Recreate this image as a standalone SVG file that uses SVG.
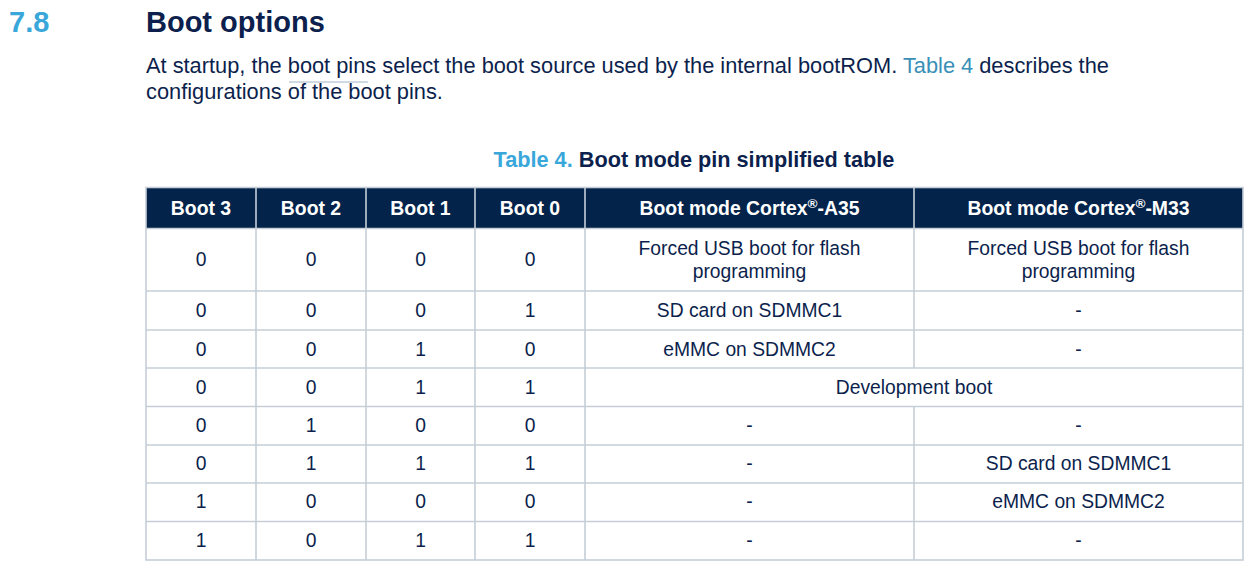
<svg xmlns="http://www.w3.org/2000/svg" width="1259" height="575" viewBox="0 0 1259 575">
<style>
text{font-family:"Liberation Sans",Arial,sans-serif;fill:#0c1f4d}
.h{font-size:29px;font-weight:bold}
.num{fill:#3aa7db}
.p{font-size:21.8px}
.link{fill:#3a8fb8}
.cap{font-size:21.7px;font-weight:bold;text-anchor:middle}
.th{font-size:19.4px;font-weight:bold;fill:#ffffff;text-anchor:middle}
.th tspan{fill:#ffffff}
.td{font-size:19.3px;text-anchor:middle}
.grid{stroke:#c5ced6;stroke-width:1.6;fill:none}
</style>
<rect width="1259" height="575" fill="#ffffff"/>
<g id="heading">
<text class="h num" x="9" y="32">7.8</text>
<text class="h" x="146" y="32">Boot options</text>
</g>
<g id="paragraph">
<text class="p" x="146" y="73">At startup, the boot pins select the boot source used by the internal bootROM. <tspan class="link">Table 4</tspan> describes the</text>
<text class="p" x="146" y="99">configurations of the boot pins.</text>
<line x1="289" y1="82" x2="368" y2="82" stroke="#9fb4c8" stroke-width="1"/>
</g>
<g id="caption">
<text class="cap" x="694" y="167"><tspan class="num">Table 4.</tspan> Boot mode pin simplified table</text>
</g>
<g id="table">
<rect x="146" y="187.5" width="1097" height="41" fill="#03234b"/>
<g id="grid" class="grid">
<rect x="146" y="187.5" width="1097" height="372.5"/>
<line x1="146" y1="228.5" x2="1243" y2="228.5"/>
<line x1="146" y1="291" x2="1243" y2="291"/>
<line x1="146" y1="330" x2="1243" y2="330"/>
<line x1="146" y1="368" x2="1243" y2="368"/>
<line x1="146" y1="406.5" x2="1243" y2="406.5"/>
<line x1="146" y1="445" x2="1243" y2="445"/>
<line x1="146" y1="483" x2="1243" y2="483"/>
<line x1="146" y1="521.5" x2="1243" y2="521.5"/>
<line x1="256" y1="187.5" x2="256" y2="560"/>
<line x1="366" y1="187.5" x2="366" y2="560"/>
<line x1="475" y1="187.5" x2="475" y2="560"/>
<line x1="585" y1="187.5" x2="585" y2="560"/>
<line x1="914" y1="187.5" x2="914" y2="368"/>
<line x1="914" y1="406.5" x2="914" y2="560"/>
</g>
<g id="header-row">
<text class="th" x="201" y="214.5">Boot 3</text>
<text class="th" x="311" y="214.5">Boot 2</text>
<text class="th" x="420.5" y="214.5">Boot 1</text>
<text class="th" x="530" y="214.5">Boot 0</text>
<text class="th" x="749.5" y="214.5">Boot mode Cortex<tspan font-size="13.5" dy="-7">®</tspan><tspan dy="7">-A35</tspan></text>
<text class="th" x="1078.5" y="214.5">Boot mode Cortex<tspan font-size="13.5" dy="-7">®</tspan><tspan dy="7">-M33</tspan></text>
</g>
<g id="row1">
<text class="td" x="201" y="266">0</text><text class="td" x="311" y="266">0</text><text class="td" x="420.5" y="266">0</text><text class="td" x="530" y="266">0</text>
<text class="td" x="749.5" y="255">Forced USB boot for flash</text><text class="td" x="749.5" y="278">programming</text>
<text class="td" x="1078.5" y="255">Forced USB boot for flash</text><text class="td" x="1078.5" y="278">programming</text>
</g>
<g id="row2">
<text class="td" x="201" y="317">0</text><text class="td" x="311" y="317">0</text><text class="td" x="420.5" y="317">0</text><text class="td" x="530" y="317">1</text>
<text class="td" x="749.5" y="317">SD card on SDMMC1</text><text class="td" x="1078.5" y="317">-</text>
</g>
<g id="row3">
<text class="td" x="201" y="356">0</text><text class="td" x="311" y="356">0</text><text class="td" x="420.5" y="356">1</text><text class="td" x="530" y="356">0</text>
<text class="td" x="749.5" y="356">eMMC on SDMMC2</text><text class="td" x="1078.5" y="356">-</text>
</g>
<g id="row4">
<text class="td" x="201" y="394">0</text><text class="td" x="311" y="394">0</text><text class="td" x="420.5" y="394">1</text><text class="td" x="530" y="394">1</text>
<text class="td" x="914" y="394">Development boot</text>
</g>
<g id="row5">
<text class="td" x="201" y="432">0</text><text class="td" x="311" y="432">1</text><text class="td" x="420.5" y="432">0</text><text class="td" x="530" y="432">0</text>
<text class="td" x="749.5" y="432">-</text><text class="td" x="1078.5" y="432">-</text>
</g>
<g id="row6">
<text class="td" x="201" y="470">0</text><text class="td" x="311" y="470">1</text><text class="td" x="420.5" y="470">1</text><text class="td" x="530" y="470">1</text>
<text class="td" x="749.5" y="470">-</text><text class="td" x="1078.5" y="470">SD card on SDMMC1</text>
</g>
<g id="row7">
<text class="td" x="201" y="508">1</text><text class="td" x="311" y="508">0</text><text class="td" x="420.5" y="508">0</text><text class="td" x="530" y="508">0</text>
<text class="td" x="749.5" y="508">-</text><text class="td" x="1078.5" y="508">eMMC on SDMMC2</text>
</g>
<g id="row8">
<text class="td" x="201" y="547">1</text><text class="td" x="311" y="547">0</text><text class="td" x="420.5" y="547">1</text><text class="td" x="530" y="547">1</text>
<text class="td" x="749.5" y="547">-</text><text class="td" x="1078.5" y="547">-</text>
</g>
</g>
</svg>
